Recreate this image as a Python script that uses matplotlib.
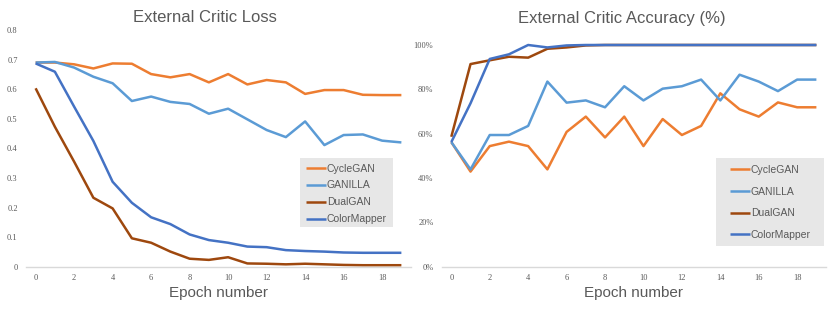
import matplotlib
matplotlib.use("Agg")
import matplotlib.pyplot as plt
from matplotlib.patches import Rectangle
from matplotlib.ticker import PercentFormatter
import numpy as np

# data
epochs = np.arange(20)
names = ["CycleGAN", "GANILLA", "DualGAN", "ColorMapper"]
colors = ["#ED7D31", "#5B9BD5", "#9E480E", "#4472C4"]

loss_cyclegan = [0.690, 0.690, 0.684, 0.670, 0.687, 0.686, 0.651, 0.640, 0.651, 0.623,
                 0.651, 0.616, 0.631, 0.623, 0.584, 0.597, 0.597, 0.581, 0.580, 0.580]
loss_ganilla = [0.690, 0.692, 0.673, 0.642, 0.620, 0.560, 0.575, 0.557, 0.550, 0.517,
                0.534, 0.498, 0.462, 0.438, 0.491, 0.411, 0.445, 0.447, 0.426, 0.420]
loss_dualgan = [0.603, 0.473, 0.355, 0.233, 0.197, 0.096, 0.081, 0.051, 0.027, 0.023,
                0.032, 0.011, 0.010, 0.008, 0.010, 0.008, 0.006, 0.005, 0.005, 0.005]
loss_colormapper = [0.687, 0.659, 0.541, 0.425, 0.287, 0.216, 0.167, 0.144, 0.109, 0.090,
                    0.081, 0.068, 0.066, 0.056, 0.053, 0.051, 0.048, 0.047, 0.047, 0.047]

acc_cyclegan = [56.2, 42.9, 54.4, 56.4, 54.4, 43.9, 60.8, 67.7, 58.3, 67.7,
                54.4, 66.6, 59.4, 63.5, 78.2, 71.0, 67.7, 74.1, 71.9, 71.9]
acc_ganilla = [56.2, 43.9, 59.4, 59.4, 63.5, 83.5, 74.0, 75.0, 71.9, 81.4,
               75.0, 80.3, 81.4, 84.4, 75.0, 86.6, 83.5, 79.2, 84.4, 84.4]
acc_dualgan = [58.6, 91.4, 93.1, 94.7, 94.3, 98.3, 98.9, 99.8, 100, 100,
               100, 100, 100, 100, 100, 100, 100, 100, 100, 100]
acc_colormapper = [56.2, 73.7, 93.7, 95.8, 100, 98.9, 99.8, 100, 100, 100,
                   100, 100, 100, 100, 100, 100, 100, 100, 100, 100]

loss_series = [loss_cyclegan, loss_ganilla, loss_dualgan, loss_colormapper]
acc_series = [acc_cyclegan, acc_ganilla, acc_dualgan, acc_colormapper]

W, H = 831, 310
gray = "#595959"
fig = plt.figure(figsize=(W / 100, H / 100), dpi=100)


def frac(x0, y0, x1, y1):
    # pixel box (top-left origin) -> figure fraction rect
    return [x0 / W, 1 - y1 / H, (x1 - x0) / W, (y1 - y0) / H]


ax1 = fig.add_axes(frac(26, 30, 411, 266.7))
ax2 = fig.add_axes(frac(441.7, 45, 826, 266.7))


def style(ax):
    for s in ["top", "right", "left"]:
        ax.spines[s].set_visible(False)
    ax.spines["bottom"].set_color("#D9D9D9")
    ax.spines["bottom"].set_linewidth(1.0)
    ax.set_xlim(-0.5, 19.5)
    ax.set_xticks(np.arange(0, 20, 2))
    ax.tick_params(length=0, labelsize=6, labelcolor=gray)
    ax.tick_params(axis="x", pad=5)
    ax.tick_params(axis="y", pad=6)
    for lab in ax.get_xticklabels() + ax.get_yticklabels():
        lab.set_fontfamily("Liberation Serif")
    ax.set_xlabel("Epoch number", fontsize=11, color=gray,
                  fontfamily="Liberation Sans", labelpad=3)


for name, c, ys in zip(names, colors, loss_series):
    ax1.plot(epochs, ys, color=c, lw=1.8, label=name, clip_on=False,
             solid_capstyle="butt")
ax1.set_ylim(0, 0.8)
ax1.set_yticks(np.arange(0, 0.81, 0.1))
ax1.set_yticklabels(["0", "0.1", "0.2", "0.3", "0.4", "0.5", "0.6", "0.7", "0.8"])
style(ax1)

for name, c, ys in zip(names, colors, acc_series):
    ax2.plot(epochs, ys, color=c, lw=1.8, label=name, clip_on=False,
             solid_capstyle="butt")
ax2.set_ylim(0, 100)
ax2.set_yticks(np.arange(0, 101, 20))
ax2.yaxis.set_major_formatter(PercentFormatter(decimals=0))
style(ax2)

fig.text(205 / W, 1 - 18 / H, "External Critic Loss", ha="center", va="center",
         fontsize=12, color=gray, fontfamily="Liberation Sans")
fig.text(622 / W, 1 - 18 / H, "External Critic Accuracy (%)", ha="center", va="center",
         fontsize=12, color=gray, fontfamily="Liberation Sans")


def legend_box(ax, box, handle_x, top_y, spacing):
    x0, y0, x1, y1 = box
    ax.add_patch(Rectangle((x0 / W, 1 - y1 / H), (x1 - x0) / W, (y1 - y0) / H,
                           transform=fig.transFigure, facecolor="#E7E7E7",
                           edgecolor="none", clip_on=False, zorder=4))
    leg = ax.legend(loc="upper left", bbox_to_anchor=(handle_x / W, 1 - top_y / H),
                    bbox_transform=fig.transFigure, frameon=False, borderpad=0,
                    borderaxespad=0, handlelength=1.9, handletextpad=0.1,
                    labelspacing=spacing, prop={"family": "Liberation Sans", "size": 7.5})
    for t in leg.get_texts():
        t.set_color(gray)
    leg.set_zorder(5)


legend_box(ax1, (300, 157.7, 393, 226.7), 306, 163.5, 0.67)
legend_box(ax2, (716, 158, 824, 246), 730, 164.8, 1.13)

fig.savefig("out.png", dpi=100)
